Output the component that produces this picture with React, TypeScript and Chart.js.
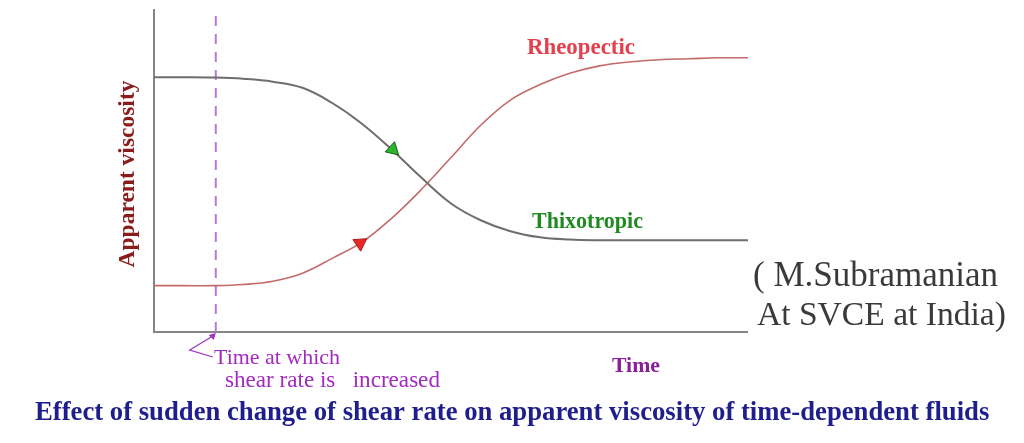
import { useEffect, useRef } from "react";
import { Chart, registerables } from "chart.js";

Chart.register(...registerables);

// ---- data (time in arbitrary units 0..100, viscosity in arbitrary units 0..100)
const timeValues = [0, 5, 10, 15, 20, 25, 30, 35, 40, 45, 50, 55, 60, 65, 70, 75, 80, 85, 90, 95, 100];
const thixotropicValues = [78.9, 78.9, 78.8, 78.4, 77.5, 75.6, 70.9, 64.5, 56.5, 47.8, 39.8, 34.6, 31.2, 29.3, 28.6, 28.4, 28.4, 28.4, 28.4, 28.4, 28.4];
const rheopecticValues = [14.35, 14.35, 14.35, 14.7, 15.7, 18.2, 22.8, 27.8, 35.2, 44.1, 54.0, 64.0, 71.8, 76.6, 80.1, 82.4, 83.6, 84.3, 84.6, 84.9, 84.9];
const shearChangeTime = [10.4, 10.4];
const shearMarkerExtent = [0, 99.5];
const thixoArrowPoint = [40.2, 56.5];
const rheoArrowPoint = [34.7, 27.5];

const yAxisTitle = "Apparent viscosity";
const xAxisTitle = "Time";
const rheoLabel = "Rheopectic";
const thixoLabel = "Thixotropic";
const markerNote = ["Time at which", "shear rate is   increased"];
const caption = "Effect of sudden change of shear rate on apparent viscosity of time-dependent fluids";
const credit = ["( M.Subramanian", "At SVCE at India)"];

const SERIF = '"Liberation Serif", "DejaVu Serif", serif';

function fitSize(ctx: CanvasRenderingContext2D, text: string, weight: string, width: number) {
  ctx.font = `${weight} 20px ${SERIF}`;
  const w = ctx.measureText(text).width;
  return (20 * width) / w;
}

function drawFitted(
  ctx: CanvasRenderingContext2D,
  text: string,
  x: number,
  y: number,
  width: number,
  weight: string,
  color: string,
  align: CanvasTextAlign = "left"
) {
  const size = fitSize(ctx, text, weight, width);
  ctx.font = `${weight} ${size}px ${SERIF}`;
  ctx.fillStyle = color;
  ctx.textAlign = align;
  ctx.textBaseline = "middle";
  ctx.fillText(text, x, y);
}

const decorations = {
  id: "decorations",
  beforeDatasetsDraw(chart: any) {
    const { ctx, chartArea } = chart;
    ctx.save();
    ctx.strokeStyle = "#858585";
    ctx.lineWidth = 2;
    ctx.beginPath();
    ctx.moveTo(chartArea.left, chartArea.top);
    ctx.lineTo(chartArea.left, chartArea.bottom);
    ctx.lineTo(chartArea.right, chartArea.bottom);
    ctx.stroke();
    ctx.restore();
  },
  afterDraw(chart: any) {
    const { ctx, chartArea } = chart;
    const xs = chart.scales.x;
    ctx.save();
    // y axis title
    ctx.save();
    ctx.translate(chartArea.left - 26, chartArea.top + 165);
    ctx.rotate(-Math.PI / 2);
    drawFitted(ctx, yAxisTitle, 0, 0, 187, "bold", "#8b1c1c", "center");
    ctx.restore();

    // series labels
    drawFitted(ctx, rheoLabel, 527, 48, 108, "bold", "#e2404c");
    drawFitted(ctx, thixoLabel, 532, 222, 111, "bold", "#1f8a22");

    // x axis title
    drawFitted(ctx, xAxisTitle, 612, 366, 48, "bold", "#8a1d9c");

    // marker note with pointer
    const mx = xs.getPixelForValue(shearChangeTime[0]);
    const by = chartArea.bottom;
    ctx.strokeStyle = "#a032c0";
    ctx.fillStyle = "#a032c0";
    ctx.lineWidth = 1.3;
    ctx.beginPath();
    ctx.moveTo(mx - 3, by + 4);
    ctx.lineTo(mx - 26, by + 18);
    ctx.lineTo(mx - 3, by + 25);
    ctx.stroke();
    ctx.beginPath();
    ctx.moveTo(mx, by + 1);
    ctx.lineTo(mx - 7, by + 3);
    ctx.lineTo(mx - 2, by + 8);
    ctx.closePath();
    ctx.fill();
    drawFitted(ctx, markerNote[0], 214, 358, 126, "normal", "#a32ac0");
    drawFitted(ctx, markerNote[1], 225, 381, 215, "normal", "#a32ac0");

    // credit
    drawFitted(ctx, credit[0], 753, 277, 245, "normal", "#3a3a3a");
    drawFitted(ctx, credit[1], 757, 316, 249, "normal", "#3a3a3a");

    // caption
    drawFitted(ctx, caption, 35, 413, 955, "bold", "#1e1e8c");
    ctx.restore();
  },
};

export default function App() {
  const ref = useRef<HTMLCanvasElement | null>(null);
  useEffect(() => {
    if (!ref.current) return;
    const chart = new Chart(ref.current, {
      type: "line",
      data: {
        datasets: [
          {
            label: "marker",
            data: shearChangeTime.map((t, i) => ({ x: t, y: shearMarkerExtent[i] })),
            borderColor: "#b57ad8",
            borderWidth: 2,
            borderDash: [10, 8],
            pointRadius: 0,
            order: 3,
          },
          {
            label: thixoLabel,
            data: timeValues.map((t, i) => ({ x: t, y: thixotropicValues[i] })),
            borderColor: "#6e6e6e",
            borderWidth: 2,
            pointRadius: 0,
            tension: 0.4,
            order: 2,
          },
          {
            label: rheoLabel,
            data: timeValues.map((t, i) => ({ x: t, y: rheopecticValues[i] })),
            borderColor: "#c46a6a",
            borderWidth: 1.6,
            pointRadius: 0,
            tension: 0.4,
            order: 2,
          },
          {
            label: "thixo arrow",
            data: [{ x: thixoArrowPoint[0], y: thixoArrowPoint[1] }],
            showLine: false,
            pointStyle: "triangle",
            pointRotation: 133,
            pointRadius: 8,
            pointBackgroundColor: "#2cb52c",
            pointBorderColor: "#1d5a1d",
            pointBorderWidth: 1,
            order: 1,
          },
          {
            label: "rheo arrow",
            data: [{ x: rheoArrowPoint[0], y: rheoArrowPoint[1] }],
            showLine: false,
            pointStyle: "triangle",
            pointRotation: 56,
            pointRadius: 8,
            pointBackgroundColor: "#e82828",
            pointBorderColor: "#b01818",
            pointBorderWidth: 1,
            order: 1,
          },
        ],
      },
      options: {
        animation: false,
        responsive: false,
        events: [],
        layout: { padding: { left: 154, right: 276, top: 8, bottom: 111 } },
        plugins: { legend: { display: false }, tooltip: { enabled: false } },
        scales: {
          x: { type: "linear", min: 0, max: 100, display: false },
          y: { type: "linear", min: 0, max: 100, display: false },
        },
      },
      plugins: [decorations],
    } as any);
    return () => chart.destroy();
  }, []);
  return (
    <div style={{ position: "absolute", left: 0, top: 0, width: 1024, height: 443, background: "#ffffff" }}>
      <canvas ref={ref} width={1024} height={443} style={{ display: "block" }} />
    </div>
  );
}
